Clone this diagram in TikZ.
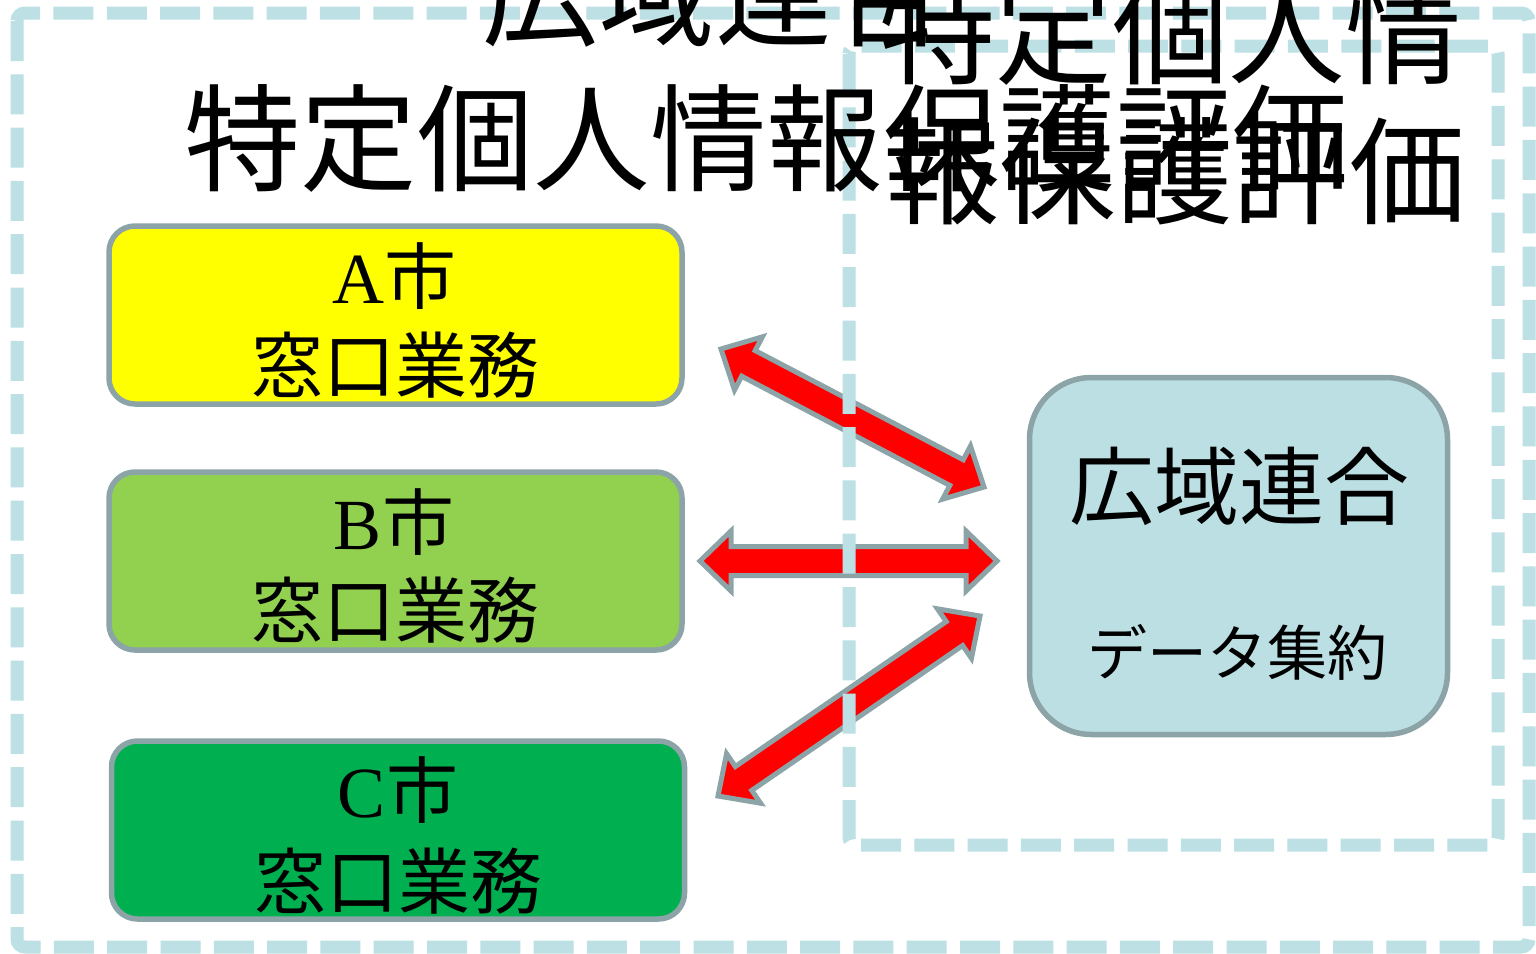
\documentclass[tikz,border=0pt]{standalone}
\usepackage{fontspec}
\setmainfont{Liberation Serif}
\newfontfamily\cjk{Noto Sans CJK JP}
\usetikzlibrary{calc}
\definecolor{dashblue}{HTML}{BCE0E4}
\definecolor{edgegray}{HTML}{8CA3A7}
\definecolor{boxA}{HTML}{FFFF00}
\definecolor{boxB}{HTML}{92D050}
\definecolor{boxC}{HTML}{00B050}
\definecolor{boxG}{HTML}{BBDFE3}
\tikzset{
  citybox/.style={draw=edgegray, line width=5.5pt, rounded corners=26pt, minimum width=573pt, minimum height=178pt, inner sep=0pt},
  hubbox/.style={draw=edgegray, line width=5.5pt, fill=boxG, rounded corners=62pt, minimum width=418pt, minimum height=357pt, inner sep=0pt},
  dashframe/.style={draw=dashblue, line width=13pt, dash pattern=on 40pt off 13.3pt, rounded corners=8pt},
  arrowbody/.style={fill=red, draw=edgegray, line width=5pt, line join=miter},
  boxtext/.style={inner sep=0pt, font=\fontsize{72}{80}\selectfont},
  titletext/.style={inner sep=0pt, anchor=base west, font=\cjk\fontsize{116.5}{120}\selectfont},
}
\newcommand{\dblarrow}[2]{%
  \draw[arrowbody] (#1)
    -- ($(#1)!31pt!(#2)!30pt!90:(#2)$)
    -- ($(#1)!31pt!(#2)!14.5pt!90:(#2)$)
    -- ($(#2)!31pt!(#1)!14.5pt!-90:(#1)$)
    -- ($(#2)!31pt!(#1)!30pt!-90:(#1)$)
    -- (#2)
    -- ($(#2)!31pt!(#1)!30pt!90:(#1)$)
    -- ($(#2)!31pt!(#1)!14.5pt!90:(#1)$)
    -- ($(#1)!31pt!(#2)!14.5pt!-90:(#2)$)
    -- ($(#1)!31pt!(#2)!30pt!-90:(#2)$)
    -- cycle;}
\begin{document}
\begin{tikzpicture}[x=1pt,y=-1pt]
\useasboundingbox (0,0) rectangle (1536,953);
\fill[white] (0,0) rectangle (1536,953);
% city boxes
\node[citybox, fill=boxA] (A) at (395.5,315) {};
\node[citybox, fill=boxB] (B) at (395.5,561) {};
\node[citybox, fill=boxC] (C) at (398,830) {};
\node[hubbox] (G) at (1238.5,556) {};
% texts in boxes
\node[boxtext] (At1) at (394,276) {A{\cjk 市}};
\node[boxtext] (At2) at (395,365) {\cjk 窓口業務};
\node[boxtext] (Bt1) at (394,522) {B{\cjk 市}};
\node[boxtext] (Bt2) at (395,610) {\cjk 窓口業務};
\node[boxtext] (Ct1) at (398,790) {C{\cjk 市}};
\node[boxtext] (Ct2) at (398,881) {\cjk 窓口業務};
\node[inner sep=0pt, font=\cjk\fontsize{85}{90}\selectfont] (Gt1) at (1239,486) {広域連合};
\node[inner sep=0pt, font=\cjk\fontsize{60}{66}\selectfont] (Gt2) at (1237,652) {データ集約};
% arrows
\coordinate (PA1) at (721,349);
\coordinate (PA2) at (984,487);
\coordinate (PB1) at (700,561);
\coordinate (PB2) at (997,561);
\coordinate (PC1) at (718,796);
\coordinate (PC2) at (980,616);
\dblarrow{PA1}{PA2}
\dblarrow{PB1}{PB2}
\dblarrow{PC1}{PC2}
% dashed frames
\draw[dashframe] (849,46) rectangle (1498,845);
\draw[dashframe] (17,13) rectangle (1529,947);
% titles
\node[titletext] (T1a) at (482,37) {広域連合};
\node[titletext] (T1b) at (184,182) {特定個人情報保護評価};
\node[titletext] (T2a) at (879,75) {特定個人情};
\node[titletext] (T2b) at (883,215) {報保護評価};
\end{tikzpicture}
\end{document}
